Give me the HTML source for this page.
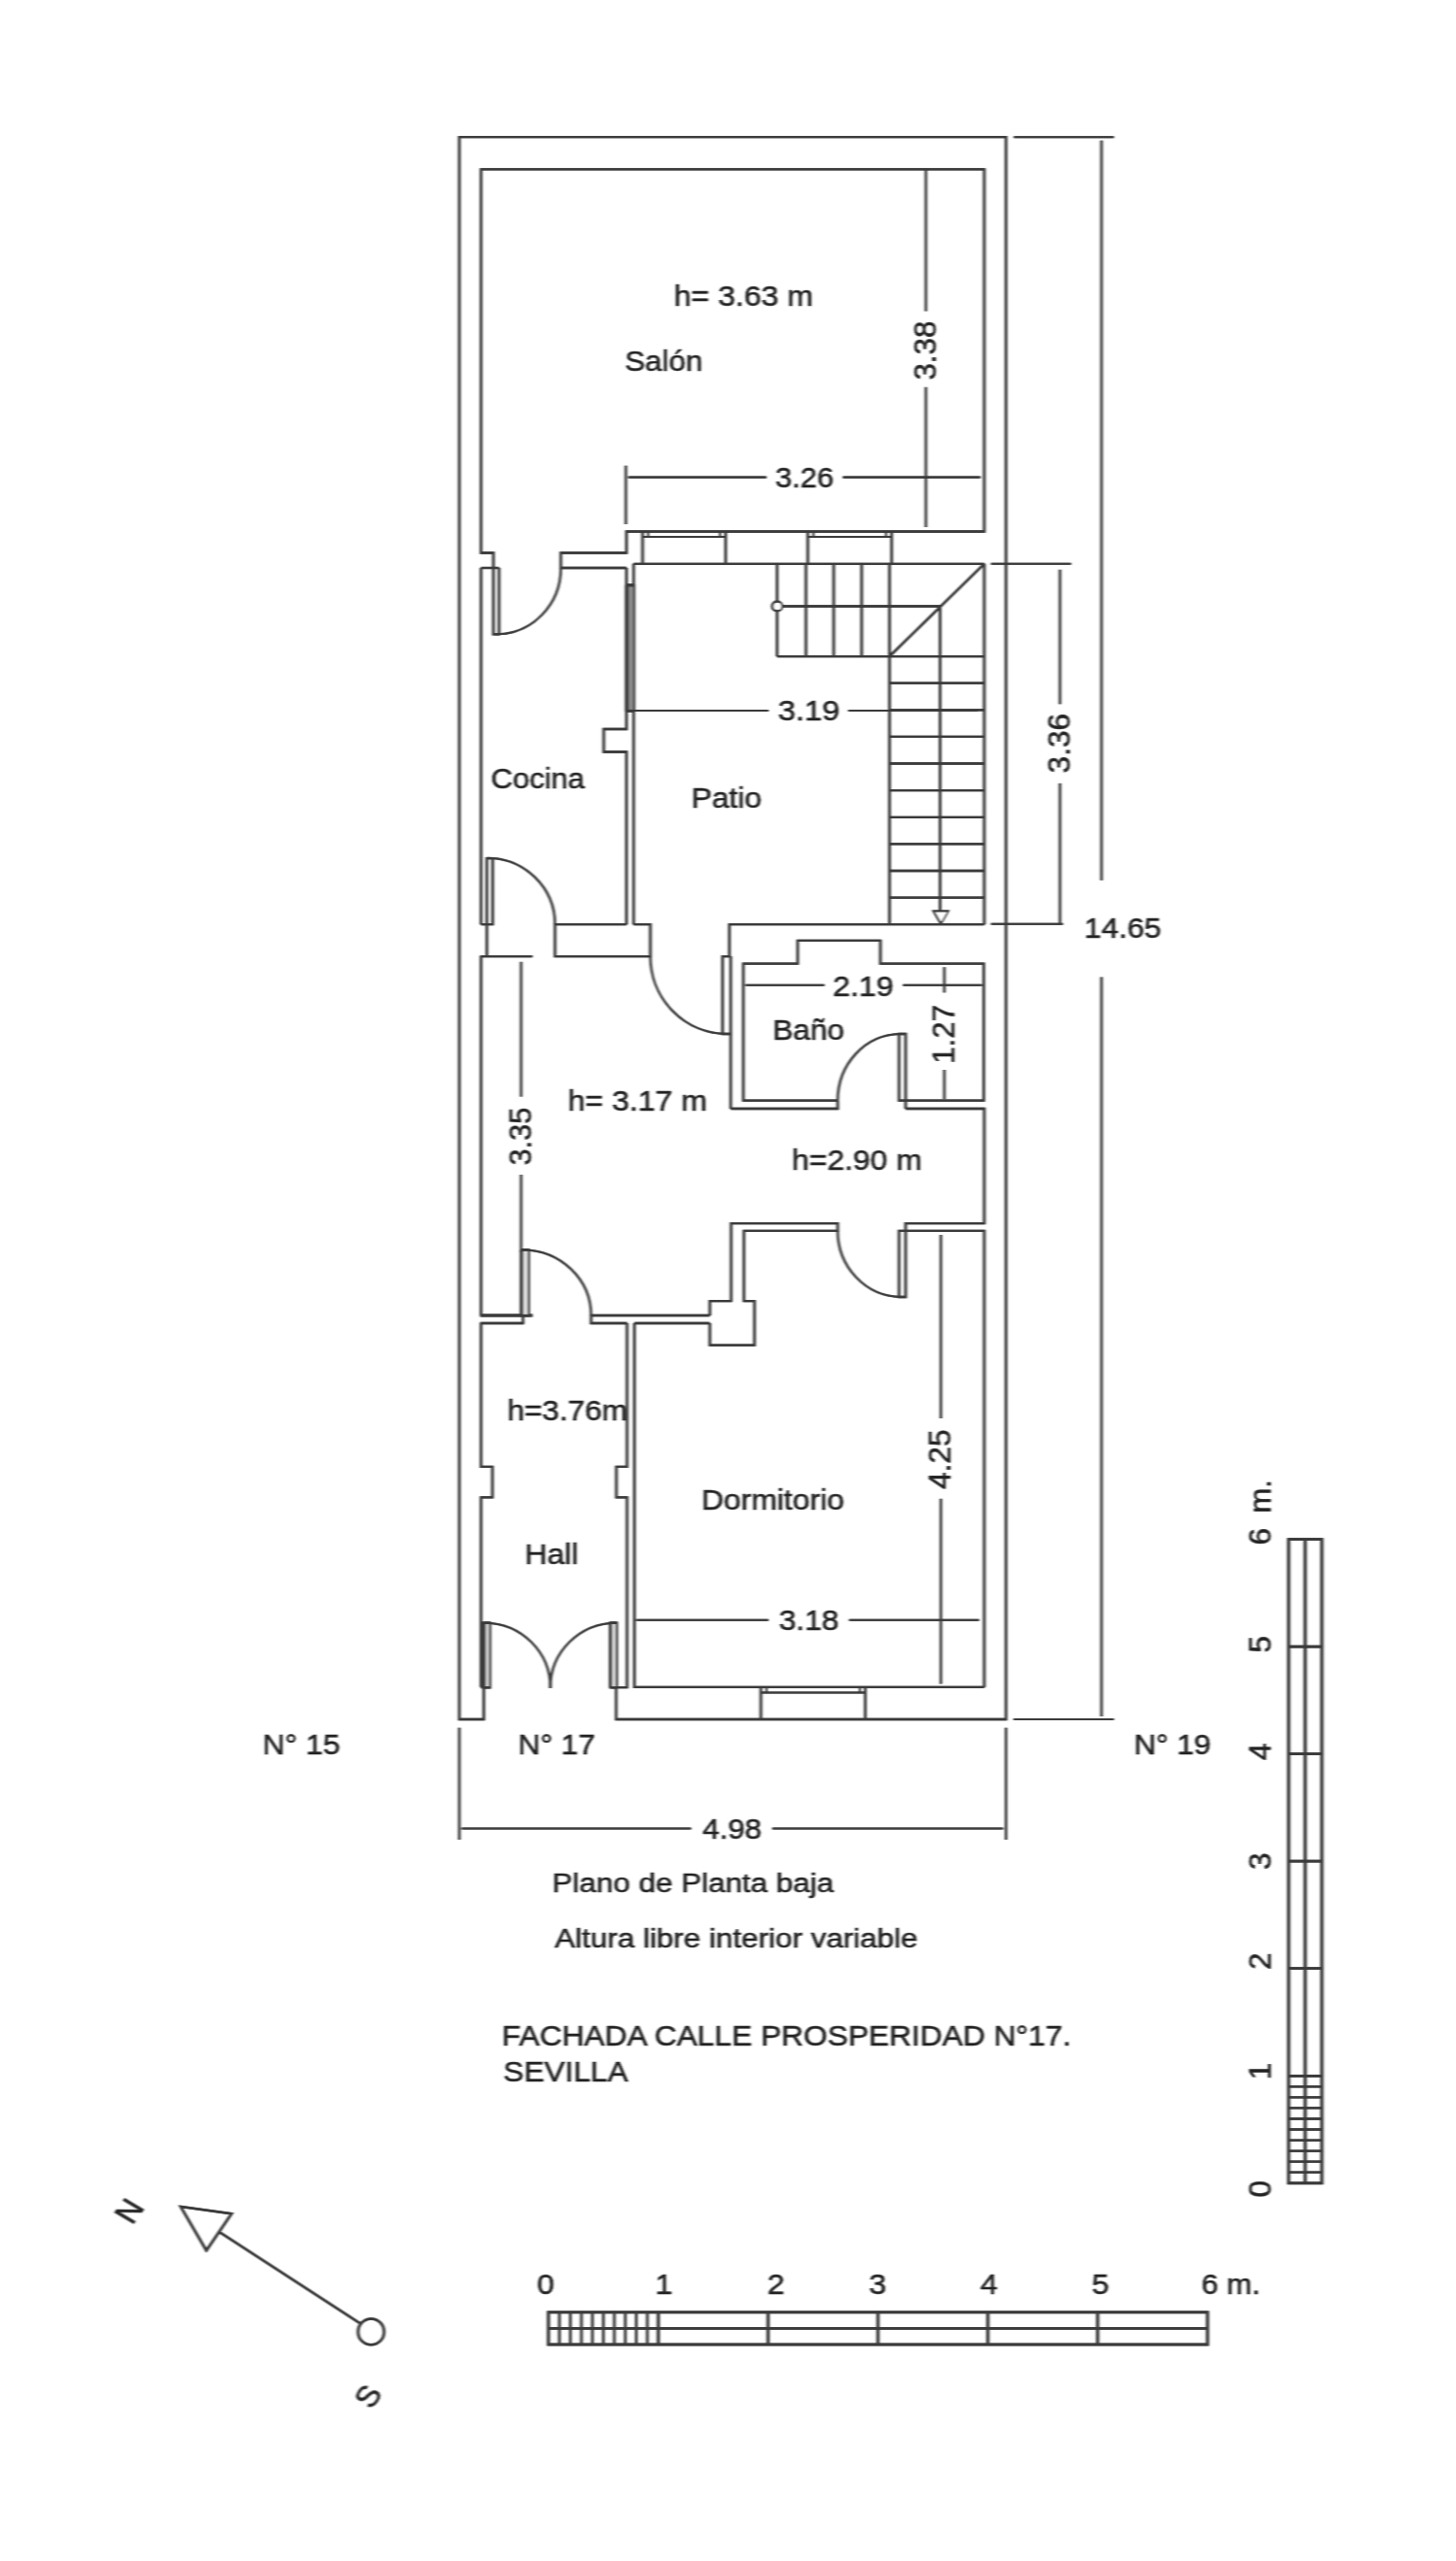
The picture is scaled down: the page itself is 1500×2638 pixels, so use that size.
<!DOCTYPE html>
<html><head><meta charset="utf-8"><title>Plano de Planta baja</title>
<style>
html,body{margin:0;padding:0;background:#fff;}
body{width:1500px;height:2638px;overflow:hidden;}
svg{display:block;}
svg text{font-family:"Liberation Sans",sans-serif;font-size:29.2px;fill:#222;stroke:#222;stroke-width:0.55px;}

</style></head><body>
<svg width="1500" height="2638" viewBox="0 0 1500 2638">
<defs><filter id="bl" x="0" y="0" width="1500" height="2638" filterUnits="userSpaceOnUse"><feGaussianBlur stdDeviation="0.85 0.3"/></filter></defs>
<rect x="0" y="0" width="1500" height="2638" fill="#fff"/>
<g filter="url(#bl)">
<g id="lw" transform="translate(-0.35,0)" stroke="#3a3a3a" stroke-width="2.3" fill="none" stroke-linecap="butt" stroke-linejoin="miter">
<polyline points="498.4,1738.2 498.4,1771.0 473.2,1771.0 473.2,141.2 1036.4,141.2 1036.4,1771.0 634.8,1771.0 634.8,1738.2" fill="none"/>
<polyline points="508.3,585 508.3,569.5 495.6,569.5 495.6,174.3 1014.0,174.3 1014.0,547.5 645.4,547.5 645.4,569.5 577.8,569.5 577.8,585 645.4,585" fill="none"/>
<line x1="495.6" y1="585" x2="514.1" y2="585"/>
<line x1="495.6" y1="585" x2="495.6" y2="952.2"/>
<polyline points="508.3,585 508.3,653.3 514.1,653.3 514.1,585" fill="none"/>
<path d="M511.5 653.3 A66.5 68 0 0 0 577.8 585.5" fill="none" stroke-width="2.0"/>
<polyline points="645.4,585 645.4,751.0 622.0,751.0 622.0,774.5 645.4,774.5 645.4,952.2" fill="none"/>
<line x1="652.8" y1="580.8" x2="652.8" y2="952.2"/>
<rect x="645.4" y="602.9" width="7.4" height="129.3" fill="#8e8e8e"/>
<line x1="645.8" y1="602.9" x2="645.8" y2="732.4" stroke-width="3.4"/>
<line x1="645.4" y1="602.9" x2="652.8" y2="602.9" stroke-width="3.0"/>
<line x1="645.4" y1="732.2" x2="652.8" y2="732.2" stroke-width="2.6"/>
<polyline points="645.4,952.2 571.8,952.2 571.8,985.2 670,985.2 670,952.2 652.8,952.2" fill="none"/>
<polyline points="495.6,952.2 507.6,952.2 507.6,884.2 501.6,884.2 501.6,985.2" fill="none"/>
<path d="M501.6 883.8 A70.2 68.4 0 0 1 571.8 952.2" fill="none" stroke-width="2.0"/>
<line x1="494.8" y1="985.2" x2="548.4" y2="985.2"/>
<line x1="652.8" y1="580.8" x2="1014.0" y2="580.8"/>
<line x1="662.0" y1="547.5" x2="662.0" y2="580.8"/>
<line x1="747.6" y1="547.5" x2="747.6" y2="580.8"/>
<line x1="662.0" y1="553.0" x2="747.6" y2="553.0" stroke-width="2.0"/>
<line x1="667.8" y1="547.5" x2="667.8" y2="553.0" stroke-width="1.6"/>
<line x1="741.8000000000001" y1="547.5" x2="741.8000000000001" y2="553.0" stroke-width="1.6"/>
<line x1="832.2" y1="547.5" x2="832.2" y2="580.8"/>
<line x1="918.6" y1="547.5" x2="918.6" y2="580.8"/>
<line x1="832.2" y1="553.0" x2="918.6" y2="553.0" stroke-width="2.0"/>
<line x1="838.0" y1="547.5" x2="838.0" y2="553.0" stroke-width="1.6"/>
<line x1="912.8000000000001" y1="547.5" x2="912.8000000000001" y2="553.0" stroke-width="1.6"/>
<line x1="800.6" y1="580.8" x2="800.6" y2="676.1"/>
<line x1="830.3" y1="580.8" x2="830.3" y2="676.1"/>
<line x1="858.9" y1="580.8" x2="858.9" y2="676.1"/>
<line x1="887.7" y1="580.8" x2="887.7" y2="676.1"/>
<line x1="916.4" y1="580.8" x2="916.4" y2="952.2"/>
<line x1="800.6" y1="676.1" x2="1014.0" y2="676.1"/>
<line x1="800.6" y1="624.5" x2="968.5" y2="624.5"/>
<line x1="916.4" y1="676.1" x2="1014.0" y2="580.8"/>
<line x1="968.5" y1="624.5" x2="968.5" y2="938.5"/>
<line x1="1014.0" y1="580.8" x2="1014.0" y2="952.2"/>
<line x1="916.4" y1="703.7" x2="1014.0" y2="703.7"/>
<line x1="916.4" y1="731.3" x2="1014.0" y2="731.3"/>
<line x1="916.4" y1="758.9" x2="1014.0" y2="758.9"/>
<line x1="916.4" y1="786.5" x2="1014.0" y2="786.5"/>
<line x1="916.4" y1="814.2" x2="1014.0" y2="814.2"/>
<line x1="916.4" y1="841.8" x2="1014.0" y2="841.8"/>
<line x1="916.4" y1="869.4" x2="1014.0" y2="869.4"/>
<line x1="916.4" y1="897.0" x2="1014.0" y2="897.0"/>
<line x1="916.4" y1="924.6" x2="1014.0" y2="924.6"/>
<circle cx="800.6" cy="624.5" r="5.0" fill="#fff"/>
<polygon points="961.7,938.5 976.7,938.5 969.2,951.5" fill="#fff" stroke-width="1.8"/>
<line x1="750.4" y1="952.2" x2="1014.0" y2="952.2"/>
<line x1="751.4" y1="952.2" x2="751.4" y2="985.2"/>
<line x1="752.8" y1="985.2" x2="752.8" y2="1142"/>
<polyline points="752.8,985.2 744.4,985.2 744.4,1065 752.8,1065" fill="none"/>
<path d="M670 985.2 A79 80 0 0 0 748 1065" fill="none" stroke-width="2.0"/>
<polyline points="863,1133.7 765.8,1133.7 765.8,992.7 821.8,992.7 821.8,968.8 907,968.8 907,992.7 1013.5,992.7 1013.5,1133.7 933,1133.7" fill="none"/>
<polyline points="752.8,1142 863,1142 863,1133.7" fill="none"/>
<polyline points="933,1142 1014.0,1142 1014.0,1260.1 933,1260.1 933,1336 926.2,1336 926.2,1267.8 1014.0,1267.8 1014.0,1737.8" fill="none"/>
<polyline points="933,1142 933,1065 926.2,1065 926.2,1133.7 933,1133.7" fill="none"/>
<path d="M927 1065 A65 68.7 0 0 0 863 1133.7" fill="none" stroke-width="2.0"/>
<path d="M863 1267.8 A66 68.2 0 0 0 928 1336" fill="none" stroke-width="2.0"/>
<polyline points="731.3,1355.0 731.3,1340.2 753.2,1340.2 753.2,1260.1 863,1260.1 863,1267.8 766.4,1267.8 766.4,1340.2 777.3,1340.2 777.3,1385.6 731.3,1385.6 731.3,1363.0" fill="none"/>
<line x1="495.6" y1="985.2" x2="495.6" y2="1355.0"/>
<line x1="494.8" y1="1355.0" x2="548.5" y2="1355.0" stroke-width="2.8"/>
<line x1="494.8" y1="1363.0" x2="539.8" y2="1363.0"/>
<rect x="537.5" y="1287.4" width="7" height="67.6" fill="#e4e4e4"/>
<line x1="537.3" y1="1287.4" x2="537.3" y2="1355.0" stroke-width="3.2"/>
<polyline points="536.9,1287.4 544.6,1287.4 544.6,1355.0" fill="none"/>
<line x1="538.8" y1="1355.0" x2="538.8" y2="1363.0"/>
<path d="M538.3 1287.4 A70.7 67.6 0 0 1 609 1355.0" fill="none" stroke-width="2.0"/>
<polyline points="731.2,1355.0 609,1355.0 609,1363.0 646,1363.0" fill="none"/>
<line x1="653.6" y1="1363.0" x2="731.2" y2="1363.0"/>
<polyline points="495.6,1363.0 495.6,1510.8 507.3,1510.8 507.3,1542.4 495.6,1542.4 495.6,1737.8" fill="none"/>
<polyline points="646,1363.0 646,1510.8 635,1510.8 635,1542.4 646,1542.4 646,1738.2 628.9,1738.2" fill="none"/>
<polyline points="653.6,1363.0 653.6,1737.8 1014.0,1737.8" fill="none"/>
<rect x="499" y="1671.7" width="5.6" height="66.5" fill="#ddd"/>
<rect x="628.9" y="1671.7" width="6.1" height="66.5" fill="#ddd"/>
<line x1="497.3" y1="1671.7" x2="497.3" y2="1738.2" stroke-width="3.6"/>
<polyline points="497,1671.7 504.6,1671.7 504.6,1738.2 495.5,1738.2" fill="none"/>
<polyline points="628.9,1738.2 628.9,1671.7 635,1671.7 635,1738.2" fill="none"/>
<path d="M499 1671.7 A68 66.5 0 0 1 567 1738.8" fill="none" stroke-width="2.0"/>
<path d="M635 1671.7 A68 66.5 0 0 0 567 1738.8" fill="none" stroke-width="2.0"/>
<line x1="783.9" y1="1737.8" x2="783.9" y2="1771.0"/>
<line x1="891.4" y1="1737.8" x2="891.4" y2="1771.0"/>
<line x1="783.9" y1="1743.4" x2="891.4" y2="1743.4" stroke-width="2.0"/>
<line x1="789.6999999999999" y1="1737.8" x2="789.6999999999999" y2="1743.4" stroke-width="1.6"/>
<line x1="885.9" y1="1737.8" x2="885.9" y2="1743.4" stroke-width="1.6"/>
<line x1="953.9" y1="175" x2="953.9" y2="320.5" stroke-width="2.1"/>
<line x1="953.9" y1="398.8" x2="953.9" y2="543" stroke-width="2.1"/>
<line x1="644.8" y1="479.7" x2="644.8" y2="540" stroke-width="2.1"/>
<line x1="647.4" y1="491.6" x2="789.5" y2="491.6" stroke-width="2.1"/>
<line x1="868.4" y1="491.6" x2="1010" y2="491.6" stroke-width="2.1"/>
<line x1="654" y1="732.0" x2="791.6" y2="732.0" stroke-width="2.1"/>
<line x1="874" y1="732.0" x2="1007" y2="732.0" stroke-width="2.1"/>
<line x1="1021" y1="580.8" x2="1103.4" y2="580.8" stroke-width="2.1"/>
<line x1="1021" y1="951.8000000000001" x2="1095" y2="951.8000000000001" stroke-width="2.1"/>
<line x1="1092" y1="586.8" x2="1092" y2="725.3" stroke-width="2.1"/>
<line x1="1092" y1="806.9" x2="1092" y2="952.2" stroke-width="2.1"/>
<line x1="1044.5" y1="141.2" x2="1147.5" y2="141.2" stroke-width="2.1"/>
<line x1="1044.3" y1="1771.0" x2="1147.4" y2="1771.0" stroke-width="2.1"/>
<line x1="1134.8" y1="144.7" x2="1134.8" y2="906.8" stroke-width="2.1"/>
<line x1="1134.8" y1="1006.5" x2="1134.8" y2="1768" stroke-width="2.1"/>
<line x1="768.2" y1="1014.7" x2="849.3" y2="1014.7" stroke-width="2.1"/>
<line x1="930.3" y1="1014.7" x2="1011.4" y2="1014.7" stroke-width="2.1"/>
<line x1="972.9" y1="996.3" x2="972.9" y2="1022.4" stroke-width="2.1"/>
<line x1="972.9" y1="1102" x2="972.9" y2="1132.3" stroke-width="2.1"/>
<line x1="536.9" y1="990.8" x2="536.9" y2="1129.6" stroke-width="2.1"/>
<line x1="536.9" y1="1210" x2="536.9" y2="1290" stroke-width="2.1"/>
<line x1="969.3" y1="1272" x2="969.3" y2="1461" stroke-width="2.1"/>
<line x1="969.3" y1="1543.8" x2="969.3" y2="1734.5" stroke-width="2.1"/>
<line x1="655.7" y1="1668.8" x2="791.6" y2="1668.8" stroke-width="2.1"/>
<line x1="874.8" y1="1668.8" x2="1008.6" y2="1668.8" stroke-width="2.1"/>
<line x1="473.2" y1="1779.7" x2="473.2" y2="1895" stroke-width="2.1"/>
<line x1="1036.4" y1="1779.7" x2="1036.4" y2="1895" stroke-width="2.1"/>
<line x1="475.7" y1="1883.5" x2="712" y2="1883.5" stroke-width="2.1"/>
<line x1="795.7" y1="1883.5" x2="1033.4" y2="1883.5" stroke-width="2.1"/>
<g stroke-width="2.8">
<rect x="565.0" y="2381.8" width="679.0" height="33.19999999999982" fill="none"/>
<line x1="565.0" y1="2398.3" x2="1244.0" y2="2398.3"/>
<line x1="576.3" y1="2381.8" x2="576.3" y2="2415.0" stroke-width="2.3"/>
<line x1="587.6" y1="2381.8" x2="587.6" y2="2415.0" stroke-width="2.3"/>
<line x1="599.0" y1="2381.8" x2="599.0" y2="2415.0" stroke-width="2.3"/>
<line x1="610.3" y1="2381.8" x2="610.3" y2="2415.0" stroke-width="2.3"/>
<line x1="621.6" y1="2381.8" x2="621.6" y2="2415.0" stroke-width="2.3"/>
<line x1="632.9" y1="2381.8" x2="632.9" y2="2415.0" stroke-width="2.3"/>
<line x1="644.2" y1="2381.8" x2="644.2" y2="2415.0" stroke-width="2.3"/>
<line x1="655.5" y1="2381.8" x2="655.5" y2="2415.0" stroke-width="2.3"/>
<line x1="666.9" y1="2381.8" x2="666.9" y2="2415.0" stroke-width="2.3"/>
<line x1="678.2" y1="2381.8" x2="678.2" y2="2415.0"/>
<line x1="791.3" y1="2381.8" x2="791.3" y2="2415.0"/>
<line x1="904.5" y1="2381.8" x2="904.5" y2="2415.0"/>
<line x1="1017.7" y1="2381.8" x2="1017.7" y2="2415.0"/>
<line x1="1130.8" y1="2381.8" x2="1130.8" y2="2415.0"/>
<rect x="1327.6" y="1585.6" width="34.200000000000045" height="663.2000000000003" fill="none"/>
<line x1="1344.6" y1="1585.6" x2="1344.6" y2="2248.8"/>
<line x1="1327.6" y1="2237.7" x2="1361.8" y2="2237.7" stroke-width="2.3"/>
<line x1="1327.6" y1="2226.7" x2="1361.8" y2="2226.7" stroke-width="2.3"/>
<line x1="1327.6" y1="2215.6" x2="1361.8" y2="2215.6" stroke-width="2.3"/>
<line x1="1327.6" y1="2204.6" x2="1361.8" y2="2204.6" stroke-width="2.3"/>
<line x1="1327.6" y1="2193.5" x2="1361.8" y2="2193.5" stroke-width="2.3"/>
<line x1="1327.6" y1="2182.5" x2="1361.8" y2="2182.5" stroke-width="2.3"/>
<line x1="1327.6" y1="2171.4" x2="1361.8" y2="2171.4" stroke-width="2.3"/>
<line x1="1327.6" y1="2160.4" x2="1361.8" y2="2160.4" stroke-width="2.3"/>
<line x1="1327.6" y1="2149.3" x2="1361.8" y2="2149.3" stroke-width="2.3"/>
<line x1="1327.6" y1="2138.3" x2="1361.8" y2="2138.3"/>
<line x1="1327.6" y1="2027.7" x2="1361.8" y2="2027.7"/>
<line x1="1327.6" y1="1917.2" x2="1361.8" y2="1917.2"/>
<line x1="1327.6" y1="1806.7" x2="1361.8" y2="1806.7"/>
<line x1="1327.6" y1="1696.1" x2="1361.8" y2="1696.1"/>
</g>
<polygon points="186.2,2273.0 238.6,2280.2 212.6,2318.2" fill="none" stroke-width="2.4"/>
<line x1="226.6" y1="2299.6" x2="371.0" y2="2393.3" stroke-width="2.4"/>
<circle cx="382.3" cy="2401.9" r="13.4" fill="none" stroke-width="2.4"/>
</g>
<use href="#lw" x="0.7" y="0"/>
<g>
<text transform="translate(694.29,315.10) scale(1.0987,1)">h= 3.63 m</text>
<text transform="translate(643.72,381.80) scale(1.0731,1)">Salón</text>
<text transform="translate(798.84,501.90) scale(1.0542,1)">3.26</text>
<text transform="translate(505.85,811.60) scale(1.0623,1)">Cocina</text>
<text transform="translate(712.22,831.90) scale(1.0889,1)">Patio</text>
<text transform="translate(801.58,742.10) scale(1.1181,1)">3.19</text>
<text transform="translate(1117.12,966.20) scale(1.0862,1)">14.65</text>
<text transform="translate(857.99,1025.50) scale(1.1017,1)">2.19</text>
<text transform="translate(796.03,1070.80) scale(1.0814,1)">Baño</text>
<text transform="translate(584.99,1143.60) scale(1.0994,1)">h= 3.17 m</text>
<text transform="translate(815.70,1205.40) scale(1.0946,1)">h=2.90 m</text>
<text transform="translate(522.63,1462.70) scale(1.0809,1)">h=3.76m</text>
<text transform="translate(540.49,1610.80) scale(1.1021,1)">Hall</text>
<text transform="translate(722.40,1555.10) scale(1.0945,1)">Dormitorio</text>
<text transform="translate(802.41,1678.70) scale(1.0889,1)">3.18</text>
<text transform="translate(270.51,1807.10) scale(1.0917,1)">N° 15</text>
<text transform="translate(533.83,1807.10) scale(1.0831,1)">N° 17</text>
<text transform="translate(1168.23,1806.80) scale(1.0817,1)">N° 19</text>
<text transform="translate(723.81,1894.00) scale(1.0708,1)">4.98</text>
<text style="font-size:28.2px" transform="translate(568.84,1949.10) scale(1.1152,1)">Plano de Planta baja</text>
<text style="font-size:28.2px" transform="translate(571.50,2006.10) scale(1.1159,1)">Altura libre interior variable</text>
<text transform="translate(517.12,2106.80) scale(1.0882,1)">FACHADA CALLE PROSPERIDAD N°17.</text>
<text transform="translate(518.61,2143.70) scale(1.0839,1)">SEVILLA</text>
<text transform="translate(553.27,2362.70) scale(1.1000,1)">0</text>
<text transform="translate(674.92,2362.70) scale(1.1000,1)">1</text>
<text transform="translate(790.47,2362.70) scale(1.1000,1)">2</text>
<text transform="translate(895.22,2362.70) scale(1.1000,1)">3</text>
<text transform="translate(1010.02,2362.70) scale(1.1000,1)">4</text>
<text transform="translate(1124.72,2362.70) scale(1.1000,1)">5</text>
<text transform="translate(1237.84,2362.70) scale(1.0666,1)">6 m.</text>
<text transform="translate(963.90,391.58) rotate(-90) scale(1.0743,1.08)">3.38</text>
<text transform="translate(1102.00,796.39) rotate(-90) scale(1.0797,1.08)">3.36</text>
<text transform="translate(982.90,1095.75) rotate(-90) scale(1.0702,1.08)">1.27</text>
<text transform="translate(546.90,1200.56) rotate(-90) scale(1.0542,1.08)">3.35</text>
<text transform="translate(979.30,1534.10) rotate(-90) scale(1.0853,1.08)">4.25</text>
<text transform="translate(1308.70,1591.47) rotate(-90) scale(1.0800,1.08)">6</text>
<text transform="translate(1308.70,1558.65) rotate(-90) scale(1.0689,1.08)">m.</text>
<text transform="translate(1308.70,1702.62) rotate(-90) scale(1.0800,1.08)">5</text>
<text transform="translate(1308.70,1813.32) rotate(-90) scale(1.0800,1.08)">4</text>
<text transform="translate(1308.70,1926.12) rotate(-90) scale(1.0800,1.08)">3</text>
<text transform="translate(1308.70,2029.07) rotate(-90) scale(1.0800,1.08)">2</text>
<text transform="translate(1308.70,2142.22) rotate(-90) scale(1.0800,1.08)">1</text>
<text transform="translate(1308.70,2263.47) rotate(-90) scale(1.0800,1.08)">0</text>
<text style="font-size:31px" transform="translate(133.0,2277.4) scale(1.1,1) rotate(-57) translate(-11.14,10.90)">N</text>
<text style="font-size:31px" transform="translate(379.2,2468.5) scale(1.1,1) rotate(-57) translate(-10.17,10.66)">S</text>
</g>
</g>
</svg>
</body></html>
